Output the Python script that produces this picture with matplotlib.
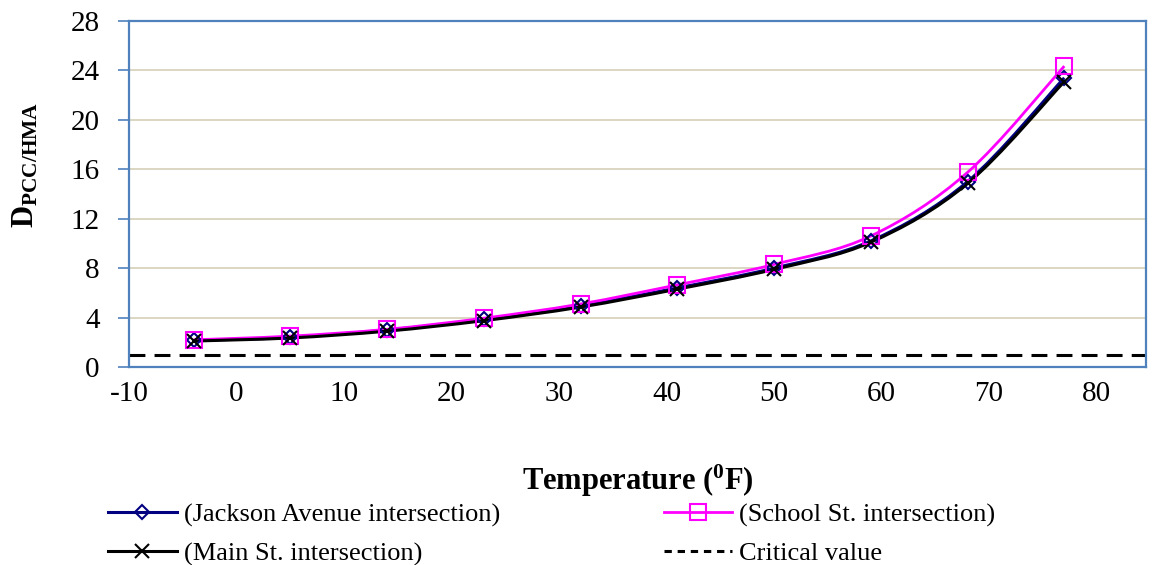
import numpy as np
import matplotlib.pyplot as plt
from matplotlib.path import Path
from matplotlib.patches import PathPatch
from matplotlib.lines import Line2D

plt.rcParams["font.family"] = "Liberation Serif"
plt.rcParams["mathtext.fontset"] = "custom"
plt.rcParams["mathtext.rm"] = "Liberation Serif"
plt.rcParams["mathtext.bf"] = "Liberation Serif:bold"
plt.rcParams["axes.unicode_minus"] = False

# Data
temperature = [-4, 5, 14, 23, 32, 41, 50, 59, 68, 77]
jackson = [2.15, 2.4, 3.0, 3.85, 4.95, 6.4, 8.0, 10.2, 15.0, 23.4]
school = [2.2, 2.5, 3.05, 3.95, 5.1, 6.65, 8.3, 10.6, 15.75, 24.35]
main_st = [2.1, 2.35, 2.9, 3.75, 4.85, 6.3, 7.9, 10.1, 14.85, 23.1]
critical_value = 1.0

x_ticks = [-10, 0, 10, 20, 30, 40, 50, 60, 70, 80]
y_ticks = [0, 4, 8, 12, 16, 20, 24, 28]

frame_col = "#4f81bd"
grid_col = "#d4d0b8"


def smooth_path(xs, ys):
    # Excel-style smoothed line: cubic Bezier segments through the points
    pts = np.column_stack([xs, ys]).astype(float)
    n = len(pts)
    verts = [pts[0]]
    codes = [Path.MOVETO]
    for i in range(n - 1):
        p0 = pts[max(i - 1, 0)]
        p1 = pts[i]
        p2 = pts[i + 1]
        p3 = pts[min(i + 2, n - 1)]
        c1 = p1 + (p2 - p0) / 6.0
        c2 = p2 - (p3 - p1) / 6.0
        verts += [c1, c2, p2]
        codes += [Path.CURVE4] * 3
    return Path(verts, codes)


fig = plt.figure(figsize=(11.52, 5.65), dpi=100)
ax = fig.add_axes([129 / 1152, 1 - 367 / 565, 1017 / 1152, 346 / 565])

series = [
    (jackson, "(Jackson Avenue intersection)", "#000080", "D", 2.2, 7, "none"),
    (school, "(School St. intersection)", "#ff00ff", "s", 2.0, 11, "none"),
    (main_st, "(Main St. intersection)", "black", "x", 2.2, 10, "black"),
]

handles = {}
for ys, label, col, mk, lw, ms, mfc in series:
    ax.add_patch(PathPatch(smooth_path(temperature, ys), fill=False,
                           edgecolor=col, lw=lw, zorder=3))
    ax.plot(temperature, ys, ls="none", marker=mk, ms=ms, mec=col,
            mfc=mfc, mew=1.5, zorder=4)
    handles[label] = Line2D([], [], color=col, lw=lw, marker=mk, ms=ms,
                            mec=col, mfc=mfc, mew=1.5)

ax.axhline(critical_value, color="black", lw=2.2, dashes=(5.2, 3.0), zorder=2)
handles["Critical value"] = Line2D([], [], color="black", lw=2.2,
                                   dashes=(2.4, 1.9))

ax.set_xlim(-10, 84.6)
ax.set_ylim(0, 28)
ax.set_xticks(x_ticks)
ax.set_yticks(y_ticks)
ax.tick_params(axis="x", length=0, pad=10, labelsize=21)
ax.tick_params(axis="y", length=8, width=1.2, color=frame_col, pad=13,
               labelsize=21)
ax.grid(axis="y", color=grid_col, lw=1.2, zorder=0)
ax.set_axisbelow(True)
for sp in ax.spines.values():
    sp.set_color(frame_col)
    sp.set_linewidth(1.6)

ax.set_xlabel(r"Temperature ($\mathbf{^{0}}$F)", fontsize=22,
              fontweight="bold", labelpad=40)
ax.set_ylabel(r"$\mathbf{D_{PCC/HMA}}$", fontsize=22)
ax.yaxis.set_label_coords(-0.087, 0.585)

order = ["(Jackson Avenue intersection)", "(Main St. intersection)",
         "(School St. intersection)", "Critical value"]
fig.legend([handles[k] for k in order], order, ncol=2, frameon=False,
           loc="upper left", bbox_to_anchor=(0.0846, 0.128), borderaxespad=0,
           fontsize=19, numpoints=1, handlelength=2.6, handletextpad=0.27,
           columnspacing=6.2, labelspacing=0.56)

fig.savefig("out.png", dpi=100)
